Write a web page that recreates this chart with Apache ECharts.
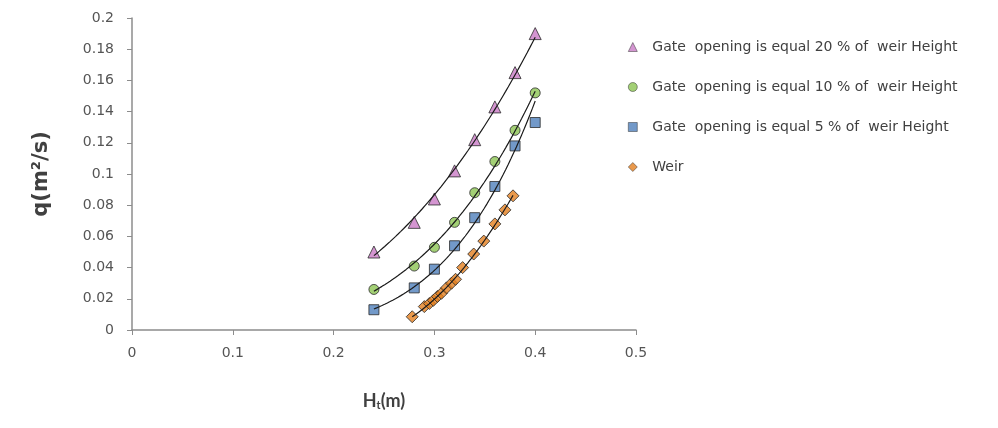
<!DOCTYPE html>
<html>
<head>
<meta charset="utf-8">
<script src="https://cdn.jsdelivr.net/npm/echarts@6/dist/echarts.min.js"></script>
<style>
html,body{margin:0;padding:0;background:#fff;}
#c{width:998px;height:428px;}
</style>
</head>
<body>
<div id="c"></div>
<script>
// ---- data ----
const seriesNames = [
  'Gate  opening is equal 20 % of  weir Height',
  'Gate  opening is equal 10 % of  weir Height',
  'Gate  opening is equal 5 % of  weir Height',
  'Weir'
];
const gateH = [0.24, 0.28, 0.30, 0.32, 0.34, 0.36, 0.38, 0.40];
const q20 = [0.050, 0.069, 0.084, 0.102, 0.122, 0.143, 0.165, 0.190];
const q10 = [0.026, 0.041, 0.053, 0.069, 0.088, 0.108, 0.128, 0.152];
const q5  = [0.013, 0.027, 0.039, 0.054, 0.072, 0.092, 0.118, 0.133];
const weirH = [0.278, 0.290, 0.295, 0.299, 0.303, 0.307, 0.312, 0.317, 0.321, 0.328, 0.339, 0.349, 0.360, 0.370, 0.378];
const weirQ = [0.0085, 0.015, 0.017, 0.019, 0.0215, 0.0235, 0.027, 0.030, 0.0325, 0.040, 0.0487, 0.057, 0.068, 0.077, 0.086];
const xTicks = [0, 0.1, 0.2, 0.3, 0.4, 0.5];
const yTicks = [0, 0.02, 0.04, 0.06, 0.08, 0.1, 0.12, 0.14, 0.16, 0.18, 0.2];

const colors = ['#C97BC6', '#8CC452', '#4F7FBC', '#E3801F'];
const symbols = ['triangle', 'circle', 'rect', 'diamond'];
const sizes = [12, 10, 10, 12];
const fitTypes = ['power', 'power', 'power', 'poly2'];

// trendlines fitted to the data arrays by least squares (as a spreadsheet trendline does)
function samples(xs) {
  const x0 = Math.min(...xs), x1 = Math.max(...xs);
  const out = [];
  const steps = 60;
  for (let k = 0; k <= steps; k++) out.push(x0 + (x1 - x0) * k / steps);
  return out;
}
function powerFit(xs, ys) {
  const n = xs.length;
  let sx = 0, sy = 0, sxx = 0, sxy = 0;
  for (let i = 0; i < n; i++) {
    const lx = Math.log(xs[i]), ly = Math.log(ys[i]);
    sx += lx; sy += ly; sxx += lx * lx; sxy += lx * ly;
  }
  const b = (n * sxy - sx * sy) / (n * sxx - sx * sx);
  const a = Math.exp((sy - b * sx) / n);
  return samples(xs).map(x => [x, a * Math.pow(x, b)]);
}
function poly2Fit(xs, ys) {
  const S = [0, 0, 0, 0, 0], T = [0, 0, 0];
  for (let i = 0; i < xs.length; i++) {
    let p = 1;
    for (let k = 0; k < 5; k++) { S[k] += p; if (k < 3) T[k] += p * ys[i]; p *= xs[i]; }
  }
  const M = [[S[0], S[1], S[2], T[0]], [S[1], S[2], S[3], T[1]], [S[2], S[3], S[4], T[2]]];
  for (let c = 0; c < 3; c++) {
    for (let r = c + 1; r < 3; r++) {
      const f = M[r][c] / M[c][c];
      for (let k = c; k < 4; k++) M[r][k] -= f * M[c][k];
    }
  }
  const cf = [0, 0, 0];
  for (let r = 2; r >= 0; r--) {
    let s = M[r][3];
    for (let k = r + 1; k < 3; k++) s -= M[r][k] * cf[k];
    cf[r] = s / M[r][r];
  }
  return samples(xs).map(x => [x, cf[0] + cf[1] * x + cf[2] * x * x]);
}

const groups = [
  [gateH, q20], [gateH, q10], [gateH, q5], [weirH, weirQ]
];

const series = [];
groups.forEach((g, i) => {
  series.push({
    name: seriesNames[i],
    type: 'scatter',
    symbol: symbols[i],
    symbolSize: sizes[i],
    data: g[0].map((x, j) => [x, g[1][j]]),
    itemStyle: { color: colors[i], borderColor: '#2b2b2b', borderWidth: 1 },
    z: 2
  });
});
groups.forEach((g, i) => {
  series.push({
    name: 'trend' + i,
    type: 'line',
    data: fitTypes[i] === 'power' ? powerFit(g[0], g[1]) : poly2Fit(g[0], g[1]),
    showSymbol: false,
    symbol: 'none',
    lineStyle: { color: '#1a1a1a', width: 1.2 },
    z: 3,
    silent: true
  });
});

const tickFont = '"DejaVu Sans", sans-serif';
const chart = echarts.init(document.getElementById('c'), null, { renderer: 'canvas' });
chart.setOption({
  animation: false,
  backgroundColor: '#ffffff',
  textStyle: { fontFamily: tickFont },
  grid: { left: 132, right: 362, top: 18, bottom: 98 },
  legend: {
    data: seriesNames.map((n, i) => ({ name: n, icon: symbols[i] })),
    orient: 'vertical',
    left: 623,
    top: 35,
    itemWidth: 9,
    itemHeight: 9,
    itemGap: 26,
    textStyle: { color: '#404040', fontSize: 14, fontFamily: tickFont, padding: [0, 0, 0, 10] },
    itemStyle: { borderColor: '#2b2b2b', borderWidth: 0.6 }
  },
  xAxis: {
    type: 'value',
    min: xTicks[0],
    max: xTicks[xTicks.length - 1],
    interval: 0.1,
    name: '{b|H}{s|t}{b|(m)}',
    nameLocation: 'middle',
    nameGap: 62,
    nameTextStyle: {
      rich: {
        b: { fontSize: 18, fontWeight: 'bold', color: '#404040', fontFamily: 'Lato, sans-serif' },
        s: { fontSize: 11, fontWeight: 'bold', color: '#404040', fontFamily: 'Lato, sans-serif', verticalAlign: 'bottom', padding: [8, 0, 0, 0] }
      }
    },
    axisLine: { lineStyle: { color: '#8c8c8c', width: 1.5 } },
    axisTick: { show: true, length: 5, lineStyle: { color: '#8c8c8c' } },
    axisLabel: { color: '#555555', fontSize: 14, fontFamily: tickFont, margin: 16 },
    splitLine: { show: false }
  },
  yAxis: {
    type: 'value',
    min: yTicks[0],
    max: yTicks[yTicks.length - 1],
    interval: 0.02,
    name: 'q(m²/s)',
    nameLocation: 'middle',
    nameRotate: 90,
    nameGap: 80,
    nameTextStyle: { fontSize: 21, fontWeight: 'bold', color: '#404040', fontFamily: tickFont },
    axisLine: { show: true, lineStyle: { color: '#8c8c8c', width: 1.5 } },
    axisTick: { show: true, length: 5, lineStyle: { color: '#8c8c8c' } },
    axisLabel: { color: '#555555', fontSize: 14, fontFamily: tickFont, margin: 18 },
    splitLine: { show: false }
  },
  series: series
});
</script>
</body>
</html>
